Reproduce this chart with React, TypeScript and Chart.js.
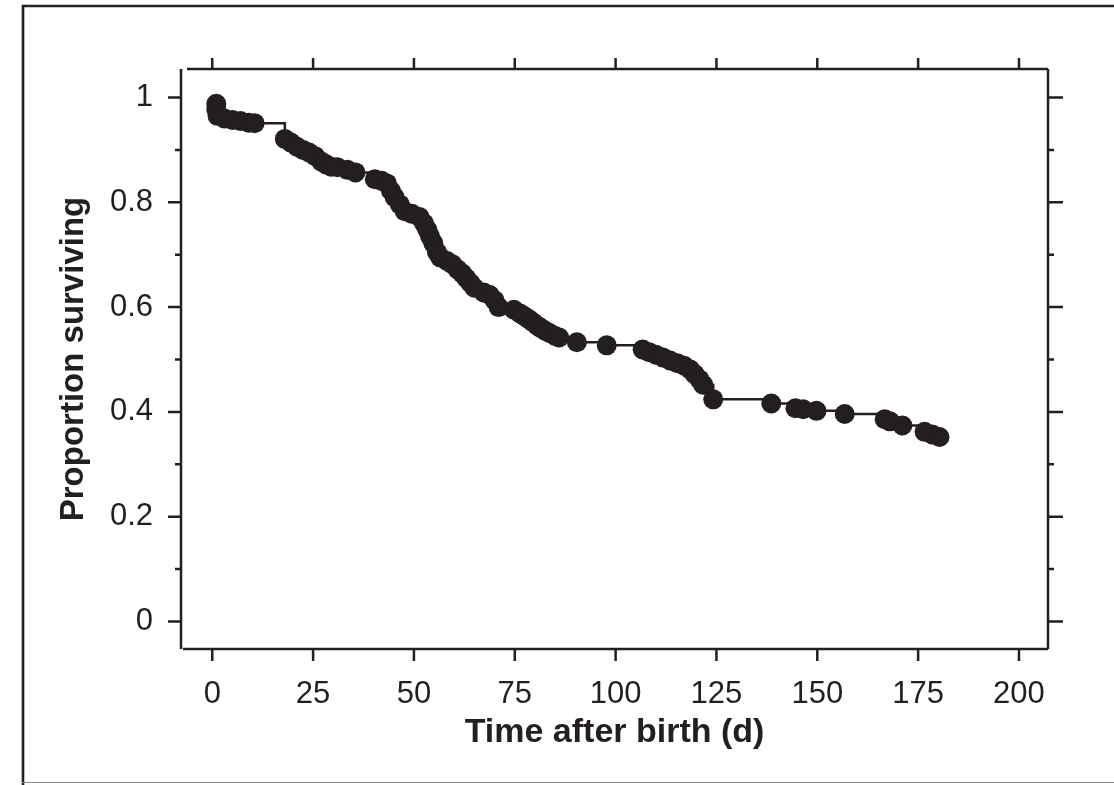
import React, { useEffect, useRef } from "react";
import { Chart, registerables } from "chart.js";

Chart.register(...registerables);

// Time after birth (days) of each plotted observation
const times: number[] = [
  1, 1, 1.3, 3, 5, 7, 9, 10.5,
  18, 19.5, 21, 22.5, 24, 25.5, 27, 28.3, 29.5, 31, 33.5, 35.5,
  40.3, 42, 43.3, 44.3, 45.2, 46.5, 47.7, 49.5, 51.4, 52.5, 53.3, 54, 54.8, 55.7, 56.5,
  58.2, 59.5, 60.8, 62, 63, 64, 65, 67.3, 68.8, 70, 71,
  74.8, 76.3, 77.5, 78.5, 79.5, 80.5, 81.5, 82.5, 83.7, 85, 86,
  90.4, 97.8,
  106.7, 108.3, 110, 111.7, 113.5, 115.3, 117, 118.5, 119.6, 120.8, 121.7, 124.2,
  138.6, 144.6, 146.5, 149.8, 156.8, 166.7, 168, 171.1, 176.6, 178.5, 180.3,
];

// Proportion surviving at each observation
const surviving: number[] = [
  0.988, 0.977, 0.965, 0.96, 0.957, 0.955, 0.952, 0.951,
  0.921, 0.914, 0.906, 0.9, 0.895, 0.888, 0.878, 0.872, 0.868, 0.867, 0.862, 0.857,
  0.844, 0.841, 0.836, 0.822, 0.81, 0.796, 0.783, 0.778, 0.772, 0.76, 0.748, 0.735, 0.722, 0.705, 0.695,
  0.688, 0.682, 0.672, 0.664, 0.655, 0.646, 0.637, 0.628, 0.623, 0.613, 0.6,
  0.595, 0.588, 0.582, 0.577, 0.571, 0.565, 0.56, 0.555, 0.55, 0.545, 0.542,
  0.533, 0.527,
  0.519, 0.514, 0.509, 0.504, 0.498, 0.493, 0.488, 0.481, 0.472, 0.462, 0.452, 0.424,
  0.416, 0.407, 0.405, 0.402, 0.396, 0.386, 0.382, 0.374, 0.362, 0.357, 0.352,
];

const xTickValues: number[] = [0, 25, 50, 75, 100, 125, 150, 175, 200];
const yTickValues: number[] = [0, 0.2, 0.4, 0.6, 0.8, 1];
const yMinorTickValues: number[] = [0.1, 0.3, 0.5, 0.7, 0.9];

const xTitle = "Time after birth (d)";
const yTitle = "Proportion surviving";

const INK = "#231f20";
const FONT = "'Liberation Sans', Arial, Helvetica, sans-serif";

const framePlugin = {
  id: "frame",
  afterDraw(chart: any) {
    const { ctx, chartArea, scales } = chart;
    const { left, right, top, bottom } = chartArea;
    const xs = scales.x;
    const ys = scales.y;
    ctx.save();
    ctx.strokeStyle = INK;
    ctx.lineCap = "butt";

    // outer picture frame
    ctx.lineWidth = 2.6;
    ctx.beginPath();
    ctx.moveTo(23, 785);
    ctx.lineTo(23, 6);
    ctx.lineTo(1114, 6);
    ctx.stroke();
    ctx.strokeStyle = "#8a8a8a";
    ctx.lineWidth = 1.2;
    ctx.beginPath();
    ctx.moveTo(22, 782.5);
    ctx.lineTo(1114, 782.5);
    ctx.stroke();

    // axes box
    ctx.strokeStyle = INK;
    ctx.lineWidth = 2.5;
    ctx.beginPath();
    ctx.moveTo(left, top);
    ctx.lineTo(left, bottom);
    ctx.moveTo(left + 2, bottom);
    ctx.lineTo(right, bottom);
    ctx.moveTo(left + 6, top);
    ctx.lineTo(right, top);
    ctx.moveTo(right, top);
    ctx.lineTo(right, bottom);
    ctx.stroke();

    // x ticks (bottom and top)
    ctx.beginPath();
    for (const v of xTickValues) {
      const px = xs.getPixelForValue(v);
      ctx.moveTo(px, bottom);
      ctx.lineTo(px, bottom + 12);
      ctx.moveTo(px, top);
      ctx.lineTo(px, top - 11);
    }
    // y major ticks
    for (const v of yTickValues) {
      const py = ys.getPixelForValue(v);
      ctx.moveTo(left, py);
      ctx.lineTo(left - 13, py);
      ctx.moveTo(right, py);
      ctx.lineTo(right + 15, py);
    }
    // y minor ticks
    for (const v of yMinorTickValues) {
      const py = ys.getPixelForValue(v);
      ctx.moveTo(left, py);
      ctx.lineTo(left - 6, py);
      ctx.moveTo(right, py);
      ctx.lineTo(right + 6, py);
    }
    ctx.stroke();
    ctx.restore();
  },
};

export default function App() {
  const canvasRef = useRef<HTMLCanvasElement | null>(null);

  useEffect(() => {
    if (!canvasRef.current) return;
    const points = times.map((t, i) => ({ x: t, y: surviving[i] }));
    const chart = new Chart(canvasRef.current, {
      type: "line",
      data: {
        datasets: [
          {
            data: points,
            stepped: "before",
            borderColor: INK,
            borderWidth: 2.5,
            backgroundColor: INK,
            pointBackgroundColor: INK,
            pointBorderWidth: 0,
            pointRadius: 10,
            pointHoverRadius: 10,
            fill: false,
          },
        ],
      },
      options: {
        animation: false,
        responsive: false,
        devicePixelRatio: 1,
        events: [],
        layout: { padding: { left: 0, right: 66, top: 69, bottom: 0 } },
        plugins: {
          legend: { display: false },
          tooltip: { enabled: false },
          title: { display: false },
        },
        scales: {
          x: {
            type: "linear",
            position: "bottom",
            min: -7.75,
            max: 207.2,
            afterBuildTicks: (s: any) => {
              s.ticks = xTickValues.map((v) => ({ value: v }));
            },
            afterFit: (s: any) => {
              s.height = 136;
            },
            grid: { display: false, drawTicks: false },
            border: { display: false },
            ticks: {
              padding: 27,
              color: INK,
              font: { family: FONT, size: 31 },
              maxRotation: 0,
              autoSkip: false,
              callback: (v: any) => String(v),
            },
            title: {
              display: true,
              text: xTitle,
              color: INK,
              font: { family: FONT, size: 34, weight: "bold" },
              padding: { top: 0, bottom: 32 },
            },
          },
          y: {
            type: "linear",
            position: "left",
            min: -0.0525,
            max: 1.0544,
            afterBuildTicks: (s: any) => {
              s.ticks = yTickValues.map((v) => ({ value: v }));
            },
            afterFit: (s: any) => {
              s.width = 181;
            },
            grid: { display: false, drawTicks: false },
            border: { display: false },
            ticks: {
              padding: 28,
              color: INK,
              font: { family: FONT, size: 31 },
              autoSkip: false,
              callback: (v: any) => String(v),
            },
            title: {
              display: true,
              text: yTitle,
              color: INK,
              font: { family: FONT, size: 33, weight: "bold" },
              padding: { top: 54, bottom: 0 },
            },
          },
        },
      },
      plugins: [framePlugin],
    });
    return () => chart.destroy();
  }, []);

  return (
    <div
      style={{
        position: "fixed",
        left: 0,
        top: 0,
        width: 1114,
        height: 785,
        background: "#ffffff",
      }}
    >
      <canvas
        ref={canvasRef}
        width={1114}
        height={785}
        style={{ width: 1114, height: 785, display: "block" }}
      />
    </div>
  );
}
